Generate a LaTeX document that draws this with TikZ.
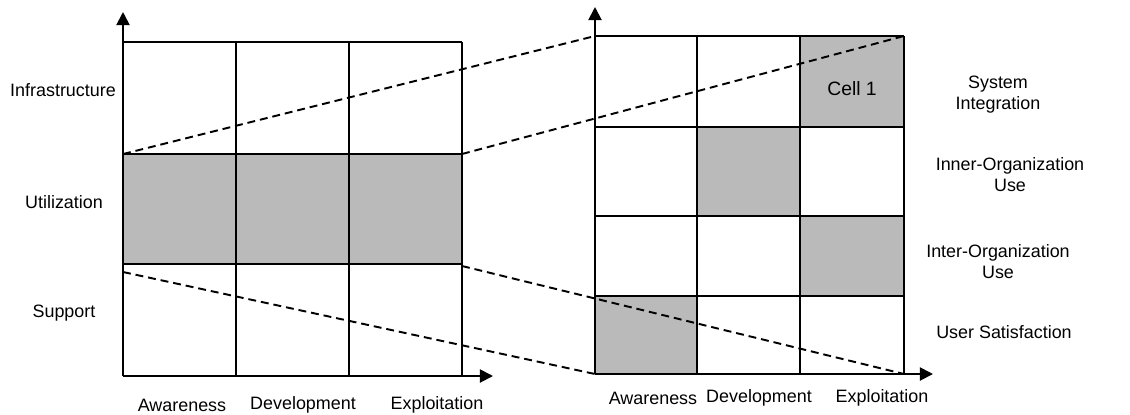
\documentclass[tikz,border=0pt]{standalone}
\usepackage{fontspec}
\setmainfont{Liberation Sans}
\usetikzlibrary{arrows.meta}

\begin{document}
\begin{tikzpicture}[
    x=0.02cm, y=-0.02cm,
    gridline/.style={line width=1.1pt, draw=black},
    shaded/.style={fill=black!27},
    axis/.style={-{Triangle[length=7.5pt,width=7.5pt]}, line width=1.1pt},
    zoomline/.style={dash pattern=on 4.5pt off 2.8pt, line width=1.1pt},
    label/.style={font=\fontsize{10.2}{12}\selectfont, align=center, inner sep=0pt}
  ]
  \useasboundingbox (0,0) rectangle (1130,414);

  % corners used by the zoom lines
  \coordinate (lu-tl) at (123,154);
  \coordinate (lu-tr) at (462,154);
  \coordinate (lu-bl) at (123,272);
  \coordinate (lu-br) at (462,266);
  \coordinate (r-tl)  at (595,36);
  \coordinate (r-tr)  at (904,36);
  \coordinate (r-bl)  at (595,374);
  \coordinate (r-br)  at (904,374);

  % shaded cells
  \fill[shaded] (123,154) rectangle (462,264);
  \fill[shaded] (800,36)  rectangle (904,127);
  \fill[shaded] (697,127) rectangle (800,216);
  \fill[shaded] (800,216) rectangle (904,296);
  \fill[shaded] (595,296) rectangle (697,374);

  % zoom lines
  \draw[zoomline] (lu-tl) -- (r-tl);
  \draw[zoomline] (lu-tr) -- (r-tr);
  \draw[zoomline] (lu-bl) -- (r-bl);
  \draw[zoomline] (lu-br) -- (r-br);

  % left grid
  \foreach \x in {236,349,462} \draw[gridline] (\x,42) -- (\x,376);
  \foreach \y in {42,154,264} \draw[gridline] (123,\y) -- (462,\y);
  \coordinate (l-o)  at (123,376);
  \coordinate (l-up) at (123,12);
  \coordinate (l-rt) at (493,376);
  \draw[axis] (l-o) -- (l-up);
  \draw[axis] (l-o) -- (l-rt);

  % right grid
  \foreach \x in {697,800,904} \draw[gridline] (\x,36) -- (\x,374);
  \foreach \y in {36,127,216,296} \draw[gridline] (595,\y) -- (904,\y);
  \coordinate (r-o)  at (595,374);
  \coordinate (r-up) at (595,7);
  \coordinate (r-rt) at (933,374);
  \draw[axis] (r-o) -- (r-up);
  \draw[axis] (r-o) -- (r-rt);

  % left labels
  \node[label] (infra) at (63,90)  {Infrastructure};
  \node[label] (util)  at (64,202) {Utilization};
  \node[label] (supp)  at (64,313) {Support};
  \node[label] (l-aw)  at (182,405) {Awareness};
  \node[label] (l-dev) at (303,405) {Development};
  \node[label] (l-exp) at (437,405) {Exploitation};

  % right labels
  \node[label] (sysint) at (998,95)   {System\\Integration};
  \node[label] (inner)  at (1010,175) {Inner-Organization\\Use};
  \node[label] (inter)  at (998,262)  {Inter-Organization\\Use};
  \node[label] (usersat) at (1004,332) {User Satisfaction};
  \node[label] (r-aw)   at (653,398) {Awareness};
  \node[label] (r-dev)  at (759,398) {Development};
  \node[label] (r-exp)  at (882,398) {Exploitation};
  \node[label, font=\fontsize{11}{13}\selectfont] (cell1) at (852,89) {Cell 1};
\end{tikzpicture}
\end{document}
